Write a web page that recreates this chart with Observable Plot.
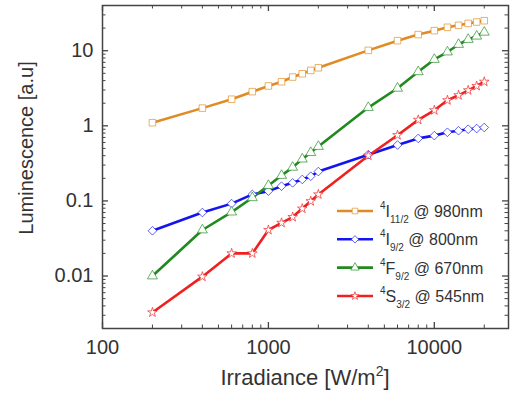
<!DOCTYPE html>
<html><head><meta charset="utf-8">
<script src="https://cdn.jsdelivr.net/npm/d3@7"></script>
<script src="https://cdn.jsdelivr.net/npm/@observablehq/plot@0.6"></script>
<style>body{margin:0;background:#fff}</style>
</head><body><div id="chart"></div>
<script>
// ---- data ----
const irradiance = [200,400,600,800,1000,1200,1400,1600,1800,2000,4000,6000,8000,10000,12000,14000,16000,18000,20000];
const lumI11_2 = [1.1,1.72,2.26,2.85,3.39,3.86,4.46,4.93,5.47,5.92,10.1,13.6,16.4,18.5,20.5,21.8,23.1,24.1,25.1];
const lumI9_2  = [0.04,0.07,0.092,0.122,0.135,0.157,0.174,0.193,0.213,0.246,0.413,0.555,0.68,0.74,0.82,0.86,0.90,0.92,0.95];
const lumF9_2  = [0.01,0.041,0.071,0.11,0.16,0.218,0.28,0.36,0.44,0.53,1.75,3.16,5.24,7.64,9.6,12.1,14.1,15.6,17.6];
const lumS3_2  = [0.00327,0.0098,0.02,0.02,0.041,0.051,0.061,0.079,0.099,0.122,0.40,0.75,1.2,1.61,2.19,2.55,2.97,3.39,3.86];
const seriesKeys = ["I11/2","I9/2","F9/2","S3/2"];
const seriesValues = [lumI11_2, lumI9_2, lumF9_2, lumS3_2];
const legendSup = ["4","4","4","4"];
const legendMain = ["I","I","F","S"];
const legendSub = ["11/2","9/2","9/2","3/2"];
const legendWave = ["@ 980nm","@ 800nm","@ 670nm","@ 545nm"];
const seriesColors = ["#e08b23","#1414f0","#1f8a1f","#f02020"];
const seriesSymbols = ["square","diamond2","triangle","star"];
const seriesMarkerR = [3.7, 3.9, 3.7, 3.0];
const xMajor = [100,1000,10000];
const xMinor = [200,300,400,500,600,700,800,900,2000,3000,4000,5000,6000,7000,8000,9000,20000];
const yMajor = [0.01,0.1,1,10];
const yMinor = [0.002,0.003,0.004,0.005,0.006,0.007,0.008,0.009,0.02,0.03,0.04,0.05,0.06,0.07,0.08,0.09,0.2,0.3,0.4,0.5,0.6,0.7,0.8,0.9,2,3,4,5,6,7,8,9,20,30];
const xTickLabels = ["100","1000","10000"];
const yTickLabels = ["0.01","0.1","1","10"];

const rows = [];
seriesKeys.forEach((k,i)=>irradiance.forEach((x,j)=>rows.push({x, y: seriesValues[i][j], s: k, r: seriesMarkerR[i]})));

// ---- layout ----
const W=511, H=403, mL=102, mR=3, mT=5, mB=75;
const pH = H-mT-mB, pW = W-mL-mR;
const axisColor = "#444", textColor = "#333";
const font = "'Liberation Sans', Arial, sans-serif";

const plot = Plot.plot({
  width: W, height: H, marginLeft: mL, marginRight: mR, marginTop: mT, marginBottom: mB,
  style: {fontFamily: font, fontSize: "20px", color: textColor, background: "white"},
  x: {type: "log", domain: [100, 28000], label: null},
  y: {type: "log", domain: [0.002, 40], label: null},
  r: {type: "identity"},
  color: {domain: seriesKeys, range: seriesColors},
  symbol: {domain: seriesKeys, range: seriesSymbols},
  marks: [
    Plot.axisX(xMajor, {anchor: "bottom", tickSize: 0, tickPadding: 11, tickFormat: d=>xTickLabels[xMajor.indexOf(d)], fontSize: 20, fill: textColor}),
    Plot.axisY(yMajor, {anchor: "left", tickSize: 0, tickPadding: 9, tickFormat: d=>yTickLabels[yMajor.indexOf(d)], fontSize: 20, fill: textColor}),
    // inward ticks, all four sides
    Plot.tickX(xMajor, {x: d=>d, insetTop: pH-6, stroke: axisColor, strokeWidth: 1.3}),
    Plot.tickX(xMinor, {x: d=>d, insetTop: pH-3.5, stroke: axisColor, strokeWidth: 1}),
    Plot.tickX(xMajor, {x: d=>d, insetBottom: pH-6, stroke: axisColor, strokeWidth: 1.3}),
    Plot.tickX(xMinor, {x: d=>d, insetBottom: pH-3.5, stroke: axisColor, strokeWidth: 1}),
    Plot.tickY(yMajor, {y: d=>d, insetRight: pW-6, stroke: axisColor, strokeWidth: 1.3}),
    Plot.tickY(yMinor, {y: d=>d, insetRight: pW-3.5, stroke: axisColor, strokeWidth: 1}),
    Plot.tickY(yMajor, {y: d=>d, insetLeft: pW-6, stroke: axisColor, strokeWidth: 1.3}),
    Plot.tickY(yMinor, {y: d=>d, insetLeft: pW-3.5, stroke: axisColor, strokeWidth: 1}),
    Plot.line(rows, {x: "x", y: "y", z: "s", stroke: "s", strokeWidth: 2.6}),
    Plot.dot(rows, {x: "x", y: "y", symbol: "s", stroke: "s", fill: "white", r: "r", strokeWidth: 0.9, strokeOpacity: 0.75}),
    Plot.frame({stroke: axisColor, strokeWidth: 1.5})
  ]
});

const svg = d3.select(plot);
// axis titles
const xt = svg.append("text").attr("x", 305).attr("y", 385).attr("text-anchor", "middle")
  .attr("font-family", font).attr("font-size", 22).attr("fill", textColor);
xt.append("tspan").text("Irradiance [W/m");
xt.append("tspan").attr("font-size", 14).attr("dy", -9).text("2");
xt.append("tspan").attr("dy", 9).text("]");
svg.append("text").attr("transform", "translate(33,148) rotate(-90)").attr("text-anchor", "middle")
  .attr("font-family", font).attr("font-size", 20).attr("fill", textColor).text("Luminescence [a.u]");

// legend
const lg = svg.append("g");
const rowY = [211, 239.3, 267.6, 296];
const symMap = {square: d3.symbolSquare, diamond2: d3.symbolDiamond2, triangle: d3.symbolTriangle, star: d3.symbolStar};
seriesKeys.forEach((k,i)=>{
  const y = rowY[i];
  lg.append("line").attr("x1", 337).attr("x2", 373).attr("y1", y).attr("y2", y)
    .attr("stroke", seriesColors[i]).attr("stroke-width", 2.6);
  const r = seriesMarkerR[i] * 0.85;
  lg.append("path").attr("transform", `translate(355,${y})`).attr("d", d3.symbol(symMap[seriesSymbols[i]], Math.PI*r*r)())
    .attr("fill", "white").attr("stroke", seriesColors[i]).attr("stroke-width", 0.9).attr("stroke-opacity", 0.75);
  const t = lg.append("text").attr("x", 380).attr("y", y+6).attr("text-anchor", "start").attr("font-family", font)
    .attr("font-size", 16).attr("fill", textColor);
  t.append("tspan").attr("font-size", 10).attr("dy", -8).text(legendSup[i]);
  t.append("tspan").attr("dy", 8).text(legendMain[i]);
  t.append("tspan").attr("font-size", 10).attr("dy", 6).text(legendSub[i]);
  t.append("tspan").attr("dy", -6).text(" " + legendWave[i]);
});

document.getElementById("chart").appendChild(plot);
</script>
</body></html>
